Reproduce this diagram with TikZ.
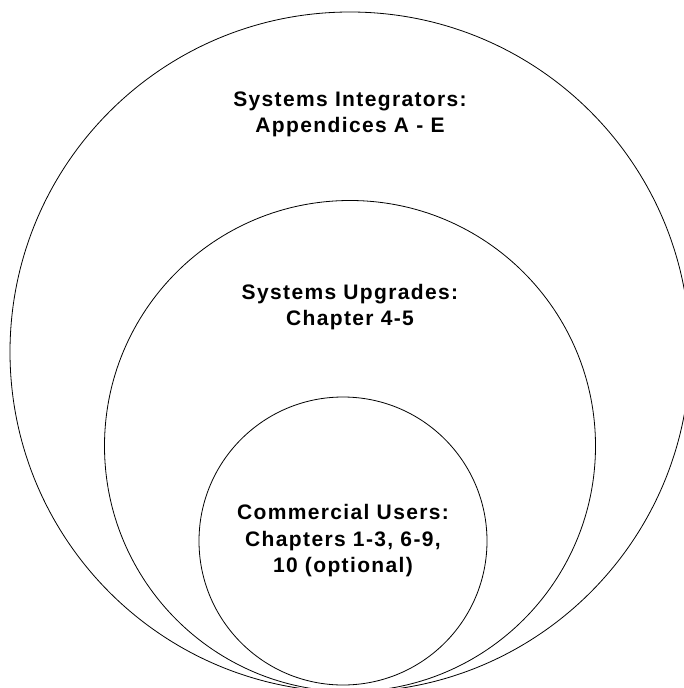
\documentclass[tikz,border=0pt]{standalone}
\usepackage{fontspec}
\setmainfont{Liberation Sans}[LetterSpace=6.5]
\usetikzlibrary{shapes.geometric}

\begin{document}
\begin{tikzpicture}[x=1pt,y=-1pt]
        \tikzset{ring/.style={circle,draw,line width=0.8pt,inner sep=0pt},
                 group/.style={align=center,font=\fontsize{21}{26.5}\selectfont\bfseries}}
        \useasboundingbox (0,0) rectangle (684,688);

        \node[ring,minimum size=680pt] (SI) at (350,352) {};
        \node[ring,minimum size=491pt] (SU) at (350,446) {};
        \node[ring,minimum size=288pt] (CU) at (343,541) {};

        \node[group] (SIt) at (350,114.5) {Systems Integrators:\\Appendices A - E};
        \node[group] (SUt) at (350,307) {Systems Upgrades:\\Chapter 4-5};
        \node[group] (CUt) at (343,541) {Commercial Users:\\Chapters 1-3, 6-9,\\10 (optional)};

    \end{tikzpicture}
\end{document}
